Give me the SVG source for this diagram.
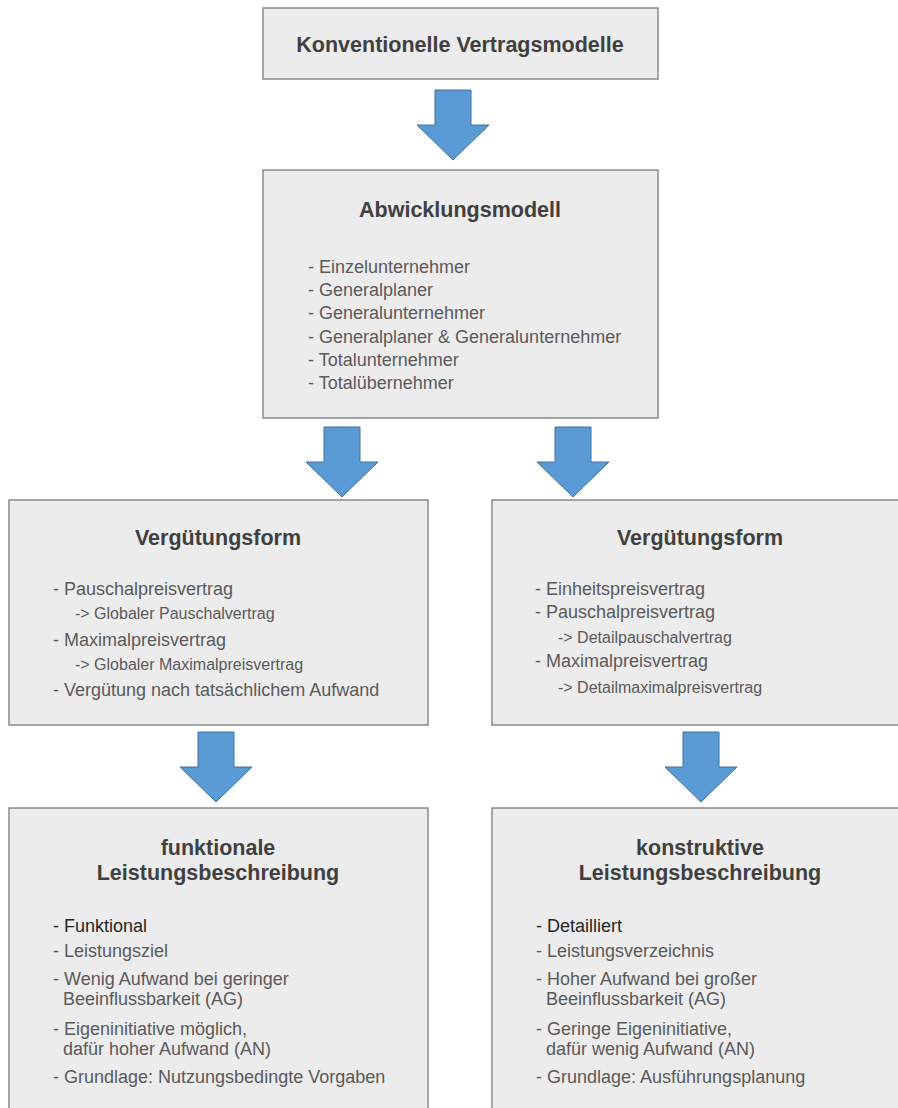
<svg xmlns="http://www.w3.org/2000/svg" width="898" height="1108" viewBox="0 0 898 1108">
  <style>
    .box { fill: #ececec; stroke: #8a8a8a; stroke-width: 1.5; }
    .arrow { fill: #5b9bd5; stroke: #41719c; stroke-width: 1; }
    .title { font-family: "Liberation Sans", Arial, sans-serif; font-weight: bold; font-size: 21.5px; fill: #404040; text-anchor: middle; }
    .item { font-family: "Liberation Sans", Arial, sans-serif; font-size: 18px; fill: #5a5a5a; }
    .sub { font-family: "Liberation Sans", Arial, sans-serif; font-size: 16px; fill: #5a5a5a; }
    .lead { fill: #262626; }
  </style>
  <defs>
    <!-- block arrow pointing down, origin at the top of the shaft centre -->
    <path id="down" d="M -18 0 L 18 0 L 18 35 L 36 35 L 0 70 L -36 35 L -18 35 Z"/>
  </defs>
  <rect width="898" height="1108" fill="#ffffff"/>

  <g id="connectors">
    <use href="#down" class="arrow" x="453" y="90"/>
    <use href="#down" class="arrow" x="342" y="427"/>
    <use href="#down" class="arrow" x="573" y="427"/>
    <use href="#down" class="arrow" x="216" y="732"/>
    <use href="#down" class="arrow" x="701" y="732"/>
  </g>

  <g id="konventionelle">
    <rect class="box" x="263" y="8" width="395" height="71"/>
    <text class="title" x="460" y="52">Konventionelle Vertragsmodelle</text>
  </g>

  <g id="abwicklungsmodell">
    <rect class="box" x="263" y="170" width="395" height="248"/>
    <text class="title" x="460" y="217">Abwicklungsmodell</text>
    <text class="item" x="308" y="273">- Einzelunternehmer</text>
    <text class="item" x="308" y="296">- Generalplaner</text>
    <text class="item" x="308" y="319">- Generalunternehmer</text>
    <text class="item" x="308" y="343">- Generalplaner &amp; Generalunternehmer</text>
    <text class="item" x="308" y="366">- Totalunternehmer</text>
    <text class="item" x="308" y="389">- Totalübernehmer</text>
  </g>

  <g id="verguetung-links">
    <rect class="box" x="9" y="500" width="419" height="225"/>
    <text class="title" x="218" y="545">Vergütungsform</text>
    <text class="item" x="53" y="595">- Pauschalpreisvertrag</text>
    <text class="sub" x="75" y="619">-&gt; Globaler Pauschalvertrag</text>
    <text class="item" x="53" y="646">- Maximalpreisvertrag</text>
    <text class="sub" x="75" y="670">-&gt; Globaler Maximalpreisvertrag</text>
    <text class="item" x="53" y="696">- Vergütung nach tatsächlichem Aufwand</text>
  </g>

  <g id="verguetung-rechts">
    <rect class="box" x="492" y="500" width="420" height="225"/>
    <text class="title" x="700" y="545">Vergütungsform</text>
    <text class="item" x="535" y="595">- Einheitspreisvertrag</text>
    <text class="item" x="535" y="618">- Pauschalpreisvertrag</text>
    <text class="sub" x="558" y="643">-&gt; Detailpauschalvertrag</text>
    <text class="item" x="535" y="667">- Maximalpreisvertrag</text>
    <text class="sub" x="558" y="693">-&gt; Detailmaximalpreisvertrag</text>
  </g>

  <g id="funktionale">
    <rect class="box" x="9" y="808" width="419" height="320"/>
    <text class="title" x="218" y="855">funktionale</text>
    <text class="title" x="218" y="880">Leistungsbeschreibung</text>
    <text class="item lead" x="53" y="932">- Funktional</text>
    <text class="item" x="53" y="957">- Leistungsziel</text>
    <text class="item" x="53" y="985">- Wenig Aufwand bei geringer</text>
    <text class="item" x="63" y="1005">Beeinflussbarkeit (AG)</text>
    <text class="item" x="53" y="1035">- Eigeninitiative möglich,</text>
    <text class="item" x="63" y="1055">dafür hoher Aufwand (AN)</text>
    <text class="item" x="53" y="1083">- Grundlage: Nutzungsbedingte Vorgaben</text>
  </g>

  <g id="konstruktive">
    <rect class="box" x="492" y="808" width="420" height="320"/>
    <text class="title" x="700" y="855">konstruktive</text>
    <text class="title" x="700" y="880">Leistungsbeschreibung</text>
    <text class="item lead" x="536" y="932">- Detailliert</text>
    <text class="item" x="536" y="957">- Leistungsverzeichnis</text>
    <text class="item" x="536" y="985">- Hoher Aufwand bei großer</text>
    <text class="item" x="546" y="1005">Beeinflussbarkeit (AG)</text>
    <text class="item" x="536" y="1035">- Geringe Eigeninitiative,</text>
    <text class="item" x="546" y="1055">dafür wenig Aufwand (AN)</text>
    <text class="item" x="536" y="1083">- Grundlage: Ausführungsplanung</text>
  </g>
</svg>
